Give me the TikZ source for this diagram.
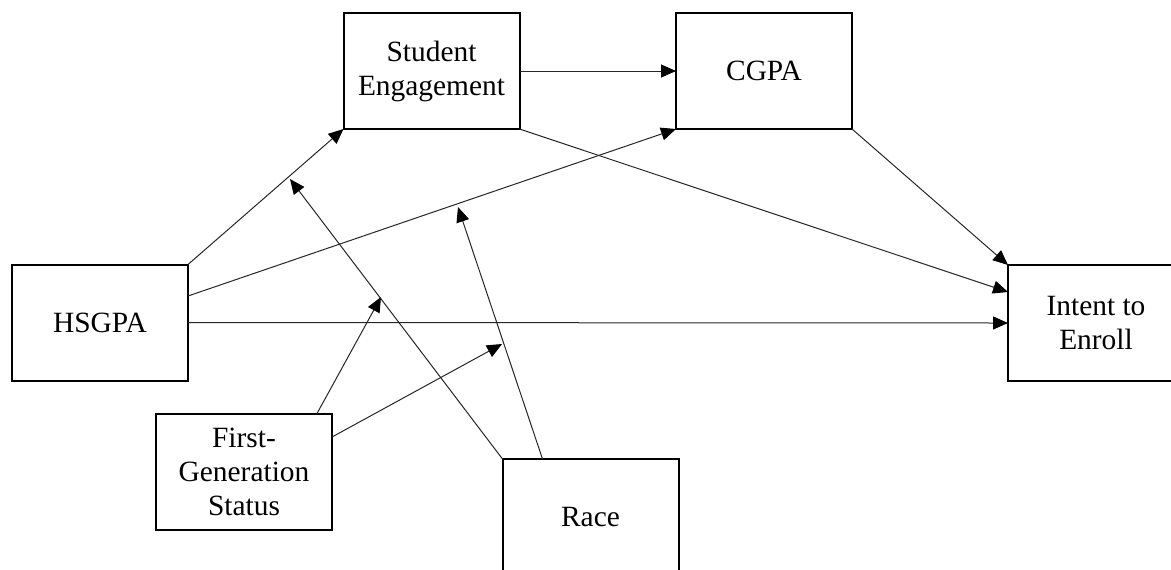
\documentclass[tikz,border=0pt]{standalone}
\usepackage{fontspec}
\setmainfont{Liberation Serif}
\usetikzlibrary{arrows.meta}
\begin{document}
\begin{tikzpicture}[x=0.5pt,y=-0.5pt,
  box/.style={draw=black, line width=1pt, inner sep=0pt, outer sep=0pt,
    minimum width=88pt, minimum height=58pt, align=center,
    font=\fontsize{14.7pt}{17pt}\selectfont},
  conn/.style={line width=0.5pt, draw=black!85, -{Triangle[length=7.5pt,width=6.5pt,color=black]}}]
\useasboundingbox (0,0) rectangle (1171,569);
\begin{scope}
\clip (0,0) rectangle (1171,569);
\node[box] (se) at (431.5,71) {Student\\Engagement};
\node[box] (cg) at (764,71) {CGPA};
\node[box] (hs) at (100,322.5) {HSGPA};
\node[box] (ie) at (1096,323) {Intent to\\Enroll};
\node[box] (fg) at (244,471.5) {First-\\Generation\\Status};
\node[box] (ra) at (590.5,517) {Race};
\end{scope}
\coordinate (t1) at (381,297);
\coordinate (t2) at (502,344);
\coordinate (t3) at (290,179);
\coordinate (t4) at (458,207);
\draw[conn] (se.east) -- (cg.west);
\draw[conn] (hs.north east) -- (se.south west);
\draw[conn] ([yshift=13.25pt]hs.east) -- (cg.south west);
\draw[conn] (hs.east) -- (ie.west);
\draw[conn] (se.south east) -- ([yshift=15.5pt]ie.west);
\draw[conn] (cg.south east) -- (ie.north west);
\draw[conn] ([xshift=36.5pt]fg.north) -- (t1);
\draw[conn] ([yshift=17.25pt]fg.east) -- (t2);
\draw[conn] (ra.north west) -- (t3);
\draw[conn] ([xshift=20pt]ra.north west) -- (t4);
\end{tikzpicture}
\end{document}
